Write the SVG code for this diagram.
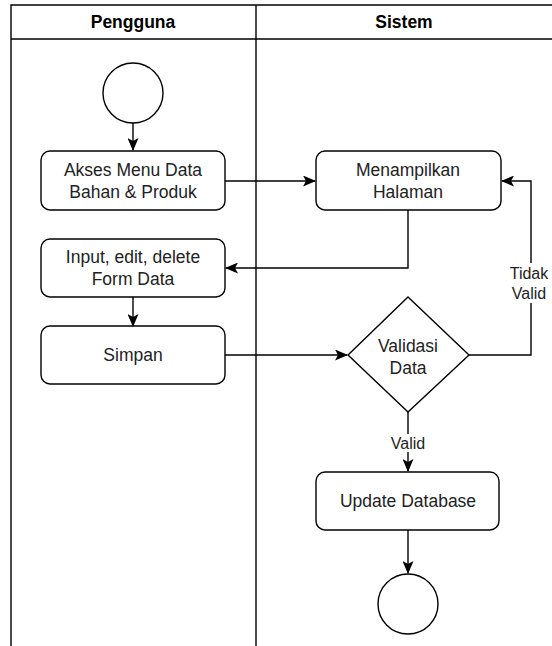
<svg xmlns="http://www.w3.org/2000/svg" width="552" height="646" viewBox="0 0 552 646">
<defs>
<style>
.ln{fill:none;stroke:#000;stroke-width:1.4}
.box{fill:#fff;stroke:#000;stroke-width:1.4}
.t{font-family:"Liberation Sans",Arial,sans-serif;font-size:17.5px;fill:#222;text-anchor:middle}
.h{font-family:"Liberation Sans",Arial,sans-serif;font-size:17.5px;font-weight:bold;fill:#000;text-anchor:middle}
.lb{font-family:"Liberation Sans",Arial,sans-serif;font-size:16px;fill:#222;text-anchor:middle}
</style>
<marker id="arr" viewBox="0 0 13 11" markerWidth="13" markerHeight="11" refX="12" refY="5.5" orient="auto" markerUnits="userSpaceOnUse">
<path d="M0,0 L13,5.5 L0,11 L3,5.5 Z" fill="#000"/>
</marker>
</defs>
<rect width="552" height="646" fill="#fff"/>
<g id="lanes">
<path class="ln" d="M11,646 V5 H553 M11,39 H553 M256,5 V646"/>
<text class="h" x="133" y="28">Pengguna</text>
<text class="h" x="404" y="28">Sistem</text>
</g>
<g id="connectors">
<path class="ln" d="M133,123 V150" marker-end="url(#arr)"/>
<path class="ln" d="M225,181 H315" marker-end="url(#arr)"/>
<path class="ln" d="M408,210 V268 H226" marker-end="url(#arr)"/>
<path class="ln" d="M133,297 V326" marker-end="url(#arr)"/>
<path class="ln" d="M225,355 H347" marker-end="url(#arr)"/>
<path class="ln" d="M469,355 H531 V181 H502" marker-end="url(#arr)"/>
<path class="ln" d="M408,412 V471" marker-end="url(#arr)"/>
<path class="ln" d="M408,530 V573" marker-end="url(#arr)"/>
<rect x="508" y="263" width="44" height="40" fill="#fff"/>
<text class="lb" x="529" y="279">Tidak</text>
<text class="lb" x="529" y="299">Valid</text>
<rect x="389" y="434" width="38" height="18" fill="#fff"/>
<text class="lb" x="408" y="449">Valid</text>
</g>
<g id="start"><circle class="box" cx="133" cy="93" r="30"/></g>
<g id="akses">
<rect class="box" x="41" y="151" width="184" height="59" rx="9"/>
<text class="t" x="133" y="176">Akses Menu Data</text>
<text class="t" x="133" y="198">Bahan &amp; Produk</text>
</g>
<g id="menampilkan">
<rect class="box" x="316" y="151" width="185" height="59" rx="9"/>
<text class="t" x="408" y="176">Menampilkan</text>
<text class="t" x="408" y="198">Halaman</text>
</g>
<g id="input">
<rect class="box" x="41" y="239" width="184" height="58" rx="9"/>
<text class="t" x="133" y="263">Input, edit, delete</text>
<text class="t" x="133" y="285">Form Data</text>
</g>
<g id="simpan">
<rect class="box" x="41" y="326" width="184" height="58" rx="9"/>
<text class="t" x="133" y="361">Simpan</text>
</g>
<g id="validasi">
<path class="box" d="M408,297 L469,355 L408,412 L348,355 Z"/>
<text class="t" x="408" y="352">Validasi</text>
<text class="t" x="408" y="374">Data</text>
</g>
<g id="update">
<rect class="box" x="316" y="472" width="183" height="58" rx="9"/>
<text class="t" x="408" y="507">Update Database</text>
</g>
<g id="end"><circle class="box" cx="408" cy="604" r="30"/></g>
</svg>
